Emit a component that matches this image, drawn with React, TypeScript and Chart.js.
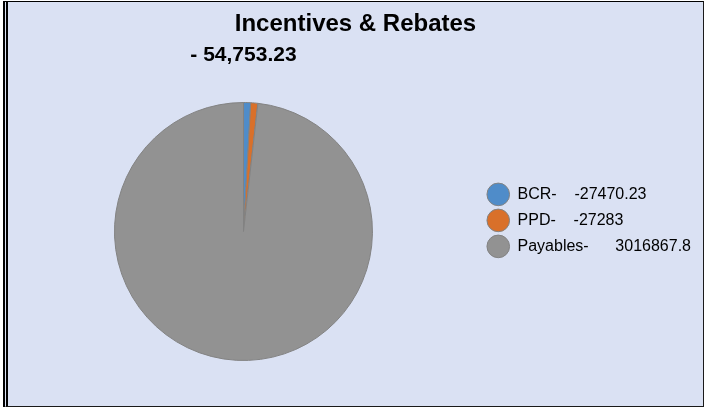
import React, { useEffect, useRef } from 'react';
import { Chart, registerables } from 'chart.js';

Chart.register(...registerables);

const titleText = 'Incentives & Rebates';
const subtitleText = '- 54,753.23';
const categories = ['BCR', 'PPD', 'Payables'];
const values = [-27470.23, -27283, 3016867.8];
const sliceColors = ['#4f8cc9', '#d9702a', '#929292'];

const FONT = '"Liberation Sans", Arial, Helvetica, sans-serif';
const BORDER = '#828282';

// legend text: "Label-" followed by a gap, then the value
const legendText = (label: string, value: number) =>
  `${label}-${' '.repeat(label.length > 4 ? 6 : 4)}${value}`;

export default function App() {
  const ref = useRef<HTMLCanvasElement>(null);

  useEffect(() => {
    const chart = new Chart(ref.current!, {
      type: 'pie',
      data: {
        labels: categories,
        datasets: [
          {
            data: values,
            backgroundColor: sliceColors,
            borderColor: BORDER,
            borderWidth: 1,
          },
        ],
      },
      options: {
        animation: false,
        responsive: true,
        maintainAspectRatio: false,
        layout: { padding: { left: 0, right: 1, top: 0, bottom: 45 } },
        plugins: {
          title: {
            display: true,
            text: titleText,
            color: '#000',
            font: { family: FONT, size: 24, weight: 'bold' },
            padding: { top: 7, bottom: 3 },
          },
          subtitle: {
            display: true,
            text: subtitleText,
            fullSize: false,
            color: '#000',
            font: { family: FONT, size: 21, weight: 'bold' },
            padding: { top: 1, bottom: 34 },
          },
          legend: {
            position: 'right',
            align: 'start',
            fullSize: false,
            title: {
              display: true,
              text: '',
              font: { family: FONT, size: 12 },
              padding: { top: 60, bottom: 0 },
            },
            labels: {
              usePointStyle: true,
              pointStyle: 'circle',
              pointStyleWidth: 22.6,
              font: { family: FONT, size: 16 },
              color: '#000',
              padding: 10,
              generateLabels: () =>
                categories.map((c, i) => ({
                  text: legendText(c, values[i]),
                  fillStyle: sliceColors[i],
                  strokeStyle: BORDER,
                  lineWidth: 1,
                  pointStyle: 'circle',
                  hidden: false,
                  index: i,
                  fontColor: '#000',
                })),
            },
          },
          tooltip: { enabled: false },
        },
      },
    } as any);
    return () => chart.destroy();
  }, []);

  return (
    <div
      style={{
        position: 'absolute',
        left: 0,
        top: 0,
        width: 711,
        height: 408,
        background: '#fff',
        overflow: 'hidden',
      }}
    >
      <div
        style={{
          position: 'absolute',
          left: 3,
          top: 1,
          width: 701,
          height: 406,
          boxSizing: 'border-box',
          background: '#dae1f3',
          borderTop: '1px solid #000',
          borderLeft: '5px double #000',
          borderRight: '1px solid #1a1a1a',
          borderBottom: '1px solid #1a1a1a',
        }}
      />
      <div style={{ position: 'absolute', left: 10, top: 3, width: 692, height: 403 }}>
        <canvas ref={ref} />
      </div>
    </div>
  );
}
